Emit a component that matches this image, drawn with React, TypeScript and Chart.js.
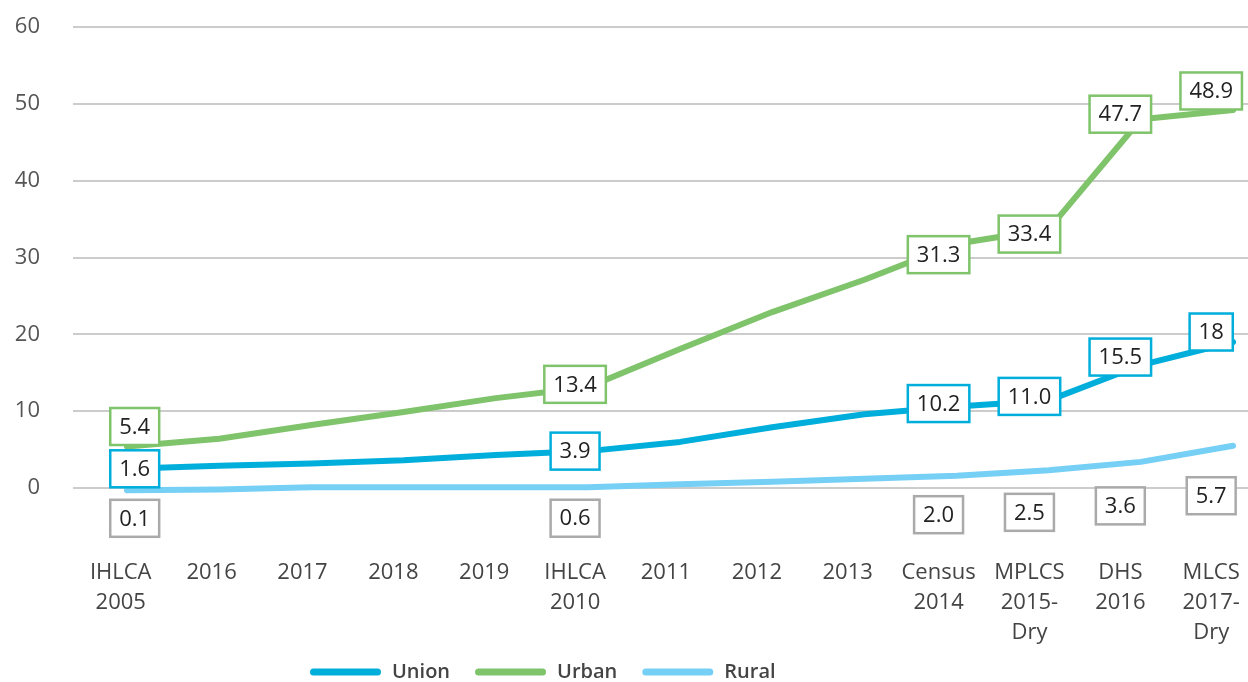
import { useEffect, useRef } from "react";
import { Chart, registerables } from "chart.js";

Chart.register(...registerables);

// ---- Data ----
const categories: (string | string[])[] = [
  ["IHLCA", "2005"], "2016", "2017", "2018", "2019", ["IHLCA", "2010"],
  "2011", "2012", "2013", ["Census", "2014"], ["MPLCS", "2015-", "Dry"],
  ["DHS", "2016"], ["MLCS", "2017-", "Dry"],
];
const unionValues = [2.5, 2.9, 3.2, 3.6, 4.3, 4.8, 6.0, 7.9, 9.6, 10.6, 11.4, 16.0, 19.0];
const urbanValues = [5.4, 6.4, 8.2, 9.9, 11.7, 13.1, 18.1, 22.9, 27.1, 31.8, 33.7, 48.0, 49.2];
const ruralValues = [-0.3, -0.2, 0.1, 0.1, 0.1, 0.1, 0.5, 0.8, 1.2, 1.6, 2.3, 3.4, 5.5];

const labelIndices = [0, 5, 9, 10, 11, 12];
const unionLabels = ["1.6", "3.9", "10.2", "11.0", "15.5", "18"];
const urbanLabels = ["5.4", "13.4", "31.3", "33.4", "47.7", "48.9"];
const ruralLabels = ["0.1", "0.6", "2.0", "2.5", "3.6", "5.7"];

const seriesNames = ["Union", "Urban", "Rural"];

// ---- Styles ----
const COLORS = { union: "#00aedb", urban: "#7fc36b", rural: "#76cff5", ruralBox: "#aaaaaa" };
const FONT = "'Open Sans', 'Noto Sans', sans-serif";
const labelNudgeY = {
  union: [0, 0, -3, -4, -8, -10],
  urban: [-20, -3, 11, 5, -5, -19],
  rural: [28, 31, 39, 42, 44, 50],
};
const labelShiftX = [14, 0, 0, 0, 0, 0];

const boxLabelsPlugin = {
  id: "boxLabels",
  afterDatasetsDraw(chart: any) {
    const ctx = chart.ctx;
    const xs = chart.scales.xl;
    const ys = chart.scales.y;
    const groups = [
      { values: ruralValues, labels: ruralLabels, nudges: labelNudgeY.rural, border: COLORS.ruralBox },
      { values: unionValues, labels: unionLabels, nudges: labelNudgeY.union, border: COLORS.union },
      { values: urbanValues, labels: urbanLabels, nudges: labelNudgeY.urban, border: COLORS.urban },
    ];
    ctx.save();
    ctx.font = `22px ${FONT}`;
    ctx.textAlign = "center";
    ctx.textBaseline = "middle";
    groups.forEach((g) => {
      g.labels.forEach((t, k) => {
        const i = labelIndices[k];
        const cx = xs.getPixelForValue(i) + labelShiftX[k];
        const cy = ys.getPixelForValue(g.values[i]) + g.nudges[k];
        const w = ctx.measureText(t).width + 18;
        const h = 37;
        ctx.fillStyle = "#ffffff";
        ctx.fillRect(cx - w / 2, cy - h / 2, w, h);
        ctx.lineWidth = 2.5;
        ctx.strokeStyle = g.border;
        ctx.strokeRect(cx - w / 2, cy - h / 2, w, h);
        ctx.fillStyle = "#222222";
        ctx.fillText(t, cx, cy + 1);
      });
    });
    ctx.restore();
  },
};

const legendPlugin = {
  id: "lineLegend",
  afterDraw(chart: any) {
    const ctx = chart.ctx;
    const colors = [COLORS.union, COLORS.urban, COLORS.rural];
    const y = 672;
    let x = 310;
    ctx.save();
    ctx.font = `600 20px ${FONT}`;
    ctx.textBaseline = "middle";
    ctx.textAlign = "left";
    seriesNames.forEach((name, i) => {
      ctx.strokeStyle = colors[i];
      ctx.lineWidth = 7;
      ctx.lineCap = "round";
      ctx.beginPath();
      ctx.moveTo(x + 3.5, y);
      ctx.lineTo(x + 71 - 3.5, y);
      ctx.stroke();
      x += 71 + 11;
      ctx.fillStyle = "#444444";
      ctx.fillText(name, x, y);
      x += ctx.measureText(name).width + 25;
    });
    ctx.restore();
  },
};

export default function App() {
  const ref = useRef<HTMLCanvasElement | null>(null);
  useEffect(() => {
    if (!ref.current) return;
    const toPoints = (arr: number[]) => arr.map((v, i) => ({ x: i, y: v }));
    const colors = [COLORS.union, COLORS.urban, COLORS.rural];
    const series = [unionValues, urbanValues, ruralValues];
    const chart = new Chart(ref.current, {
      type: "line",
      data: {
        datasets: [2, 0, 1].map((s) => ({
          label: seriesNames[s],
          data: toPoints(series[s]),
          borderColor: colors[s],
          backgroundColor: colors[s],
          borderWidth: 6,
          pointRadius: 0,
          tension: 0,
          borderCapStyle: "round",
          borderJoinStyle: "round",
          clip: false,
          xAxisID: "x",
          yAxisID: "y",
        })),
      },
      options: {
        animation: false,
        responsive: false,
        devicePixelRatio: 1,
        layout: { padding: { top: 27, left: 0, right: 0, bottom: 0 } },
        plugins: { legend: { display: false }, tooltip: { enabled: false } },
        scales: {
          x: {
            type: "linear",
            display: false,
            min: -0.586,
            max: 12.162,
          },
          xl: {
            type: "linear",
            position: "bottom",
            min: -0.525,
            max: 12.405,
            afterBuildTicks: (scale: any) => {
              scale.ticks = categories.map((_, i) => ({ value: i }));
            },
            afterFit: (scale: any) => {
              scale.height = 194;
              scale.paddingLeft = 0;
              scale.paddingRight = 0;
            },
            grid: { display: false, drawTicks: false },
            border: { display: false },
            ticks: {
              autoSkip: false,
              maxRotation: 0,
              minRotation: 0,
              padding: 70,
              color: "#444444",
              font: { family: FONT, size: 22, lineHeight: 1.36 },
              callback: (v: any) => categories[v as number] as any,
            },
          },
          y: {
            type: "linear",
            min: 0,
            max: 60,
            afterFit: (scale: any) => {
              scale.width = 73;
              scale.paddingTop = 0;
              scale.paddingBottom = 0;
            },
            grid: { color: "#cccccc", lineWidth: 2, drawTicks: false },
            border: { display: false },
            ticks: {
              stepSize: 10,
              padding: 33,
              color: "#555555",
              font: { family: FONT, size: 22 },
            },
          },
        },
      },
      plugins: [boxLabelsPlugin, legendPlugin],
    } as any);
    return () => chart.destroy();
  }, []);
  return (
    <div style={{ position: "absolute", left: 0, top: 0, width: 1248, height: 682, background: "#fff" }}>
      <canvas ref={ref} width={1248} height={682} />
    </div>
  );
}
